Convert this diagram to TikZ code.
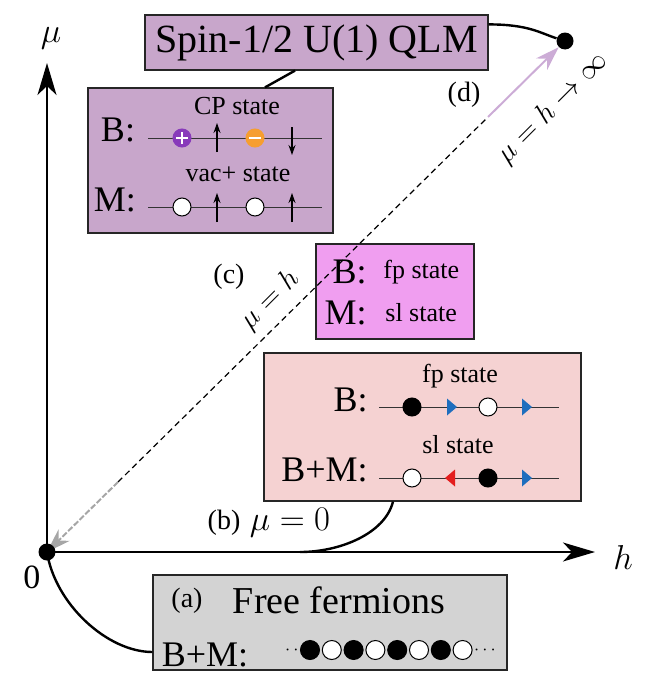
\documentclass[tikz,border=0pt]{standalone}
\usepackage{fontspec}
\setmainfont{Liberation Serif}
\usetikzlibrary{positioning,arrows.meta}

\definecolor{qlmfill}{RGB}{200,166,203}
\definecolor{fpfill}{RGB}{240,158,240}
\definecolor{slfill}{RGB}{245,210,210}
\definecolor{fffill}{RGB}{211,211,211}
\definecolor{pluscol}{RGB}{136,58,186}
\definecolor{minuscol}{RGB}{246,158,48}
\definecolor{bluetri}{RGB}{30,110,190}
\definecolor{redtri}{RGB}{228,30,30}
\definecolor{limitcol}{RGB}{204,172,214}

\newcommand{\hugefs}{\fontsize{20}{22}\selectfont}
\newcommand{\bigfs}{\fontsize{18}{20}\selectfont}
\newcommand{\midfs}{\fontsize{13}{15}\selectfont}

\begin{document}
\begin{tikzpicture}[
    x=0.5pt, y=-0.5pt,
    panel/.style={draw=black!85, line width=0.6pt, inner sep=0pt},
    lab/.style={font=\bigfs, inner sep=0pt},
    st/.style={font=\midfs, inner sep=0pt},
    chain/.style={line width=0.4pt, black!80},
    site/.style={circle, draw, line width=0.5pt, minimum size=9pt, inner sep=0pt},
    spinarrow/.style={-{Stealth[length=5pt,width=3.5pt]}, line width=0.6pt},
    axis/.style={-{Stealth[length=16pt,width=9.5pt,inset=4.5pt]}, line width=0.8pt},
    link/.style={line width=1.2pt},
    bigdot/.style={circle, fill=black, minimum size=8.5pt, inner sep=0pt}
]
\useasboundingbox (0,0) rectangle (658,680);

% panels
\node[panel, fill=qlmfill, minimum width=171.5pt, minimum height=27.5pt, font=\hugefs] (qlm) at (316.5,42.5) {Spin-1/2 U(1) QLM};
\node[panel, fill=qlmfill, minimum width=122.5pt, minimum height=72.5pt] (cpbox) at (210.5,160.5) {};
\node[panel, fill=fpfill, minimum width=79pt, minimum height=47.5pt] (fpbox) at (395,291.5) {};
\node[panel, fill=slfill, minimum width=158.5pt, minimum height=74pt] (slbox) at (422.5,427) {};
\node[panel, fill=fffill, minimum width=177pt, minimum height=47.5pt] (ffbox) at (330,622.5) {};

% axes
\coordinate (mutip) at (47,63);
\coordinate (htip) at (595,552);
\coordinate (bend) at (300,552);
\draw[axis] (47,552) -- (mutip);
\draw[axis] (47,552) -- (htip);
\node[font=\fontsize{18}{20}\selectfont] (mulab) at (51,38) {$\mu$};
\node[font=\fontsize{18}{20}\selectfont] (hlab) at (623,557) {$h$};
\node[font=\fontsize{17}{19}\selectfont] (zerolab) at (32,577) {0};

% diagonal mu = h
\coordinate (dmid) at (488,117);
\coordinate (gmid) at (118,482);
\node[bigdot] (topdot) at (565,41) {};
\draw[line width=0.6pt, dash pattern=on 3pt off 2pt] (gmid) -- (dmid);
\draw[limitcol, line width=1pt, -{Stealth[length=12pt,width=8pt]}] (dmid) -- (topdot);
\draw[black!35, line width=1pt, dash pattern=on 3pt off 1pt, -{Stealth[length=12pt,width=8pt]}] (gmid) -- (47,552);
\node[font=\fontsize{15}{17}\selectfont, rotate=45] (inflab) at (553,108) {$\mu=h\rightarrow\infty$};
\node[font=\fontsize{15}{17}\selectfont, rotate=45] (hlineLab) at (270,300) {$\mu=h$};

% connectors
\draw[link] ([yshift=-5pt]qlm.north east) .. controls +(40,0) and +(-25,-8) .. (topdot);
\draw[link] ([xshift=-10.75pt]qlm.south) -- ([xshift=27.25pt]cpbox.north);
\draw[link] ([xshift=-14.75pt]slbox.south) .. controls +(-8,32) and +(40,0) .. (bend);
\draw[link] (47,552) .. controls +(8,52) and +(-45,0) .. ([yshift=-14.75pt]ffbox.west);
\node[bigdot] (origin) at (47,552) {};

% case labels
\node[font=\fontsize{14}{16}\selectfont] (dlab) at (464,95) {(d)};
\node[font=\fontsize{14}{16}\selectfont] (clab) at (229,277) {(c)};
\node[font=\fontsize{14}{16}\selectfont] (blab) at (224,523) {(b)};
\node[font=\fontsize{17}{19}\selectfont] (mu0lab) at (290,523) {$\mu=0$};

% CP and vac+ states
\node[st] (cptxt) at (237,106) {CP state};
\node[lab] (cpB) at (118,130) {B:};
\draw[chain] (148,138) -- (322,138);
\node[site, fill=pluscol, draw=pluscol] (plus) at (182,138) {};
\draw[white, line width=1.1pt] ([xshift=-3pt]plus.center) -- ([xshift=3pt]plus.center)
    ([yshift=-3pt]plus.center) -- ([yshift=3pt]plus.center);
\node[site, fill=minuscol, draw=minuscol] (minus) at (255,138) {};
\draw[white, line width=1.1pt] ([xshift=-3pt]minus.center) -- ([xshift=3pt]minus.center);
\draw[spinarrow] (217,152) -- (217,123);
\draw[spinarrow] (292,127) -- (292,155);

\node[st] (vactxt) at (238,174) {vac+ state};
\node[lab] (vacM) at (115,200) {M:};
\draw[chain] (148,207) -- (322,207);
\node[site, fill=white] (v1) at (182,207) {};
\node[site, fill=white] (v2) at (255,207) {};
\draw[spinarrow] (217,222) -- (217,193);
\draw[spinarrow] (292,222) -- (292,193);

% fp / sl box
\node[lab, anchor=east] (fpB) at (367,272) {B:};
\node[st, anchor=west] (fptxt) at (383,272) {fp state};
\node[lab, anchor=east] (fpM) at (367,313) {M:};
\node[st, anchor=west] (sltxt) at (385,313) {sl state};

% fp and sl chains
\node[st] (fpchaintxt) at (460,376) {fp state};
\node[lab, anchor=east] (chB) at (368,400) {B:};
\draw[chain] (379,407) -- (559,407);
\node[site, fill=black] (fp1) at (412,407) {};
\node[site, fill=white] (fp2) at (488,407) {};
\fill[bluetri] (452,407) ++(-5,-8.5) -- ++(10,8.5) -- ++(-10,8.5) -- cycle;
\fill[bluetri] (527,407) ++(-5,-8.5) -- ++(10,8.5) -- ++(-10,8.5) -- cycle;

\node[st] (slchaintxt) at (458,445) {sl state};
\node[lab, anchor=east] (chBM) at (368,470) {B+M:};
\draw[chain] (379,478) -- (559,478);
\node[site, fill=white] (sl1) at (412,478) {};
\node[site, fill=black] (sl2) at (488,478) {};
\fill[redtri] (450,478) ++(5,-8.5) -- ++(-10,8.5) -- ++(10,8.5) -- cycle;
\fill[bluetri] (527,478) ++(-5,-8.5) -- ++(10,8.5) -- ++(-10,8.5) -- cycle;

% free fermions
\node[font=\fontsize{14}{16}\selectfont] (alab) at (187,601) {(a)};
\node[font=\fontsize{19}{21}\selectfont] (fftxt) at (339,600) {Free fermions};
\node[lab] (ffBM) at (205,655) {B+M:};
\node[font=\fontsize{9}{10}\selectfont, inner sep=0pt] (ldots) at (296,650) {$\cdots$};
\node[font=\fontsize{9}{10}\selectfont, inner sep=0pt] (rdots) at (485,650) {$\cdots$};
\foreach \i [evaluate=\i as \xx using 310+21.8*\i] in {0,...,7} {
    \ifodd\i
        \node[site, fill=white, minimum size=9.5pt] (f\i) at (\xx,650) {};
    \else
        \node[site, fill=black, minimum size=9.5pt] (f\i) at (\xx,650) {};
    \fi
}

\end{tikzpicture}
\end{document}
